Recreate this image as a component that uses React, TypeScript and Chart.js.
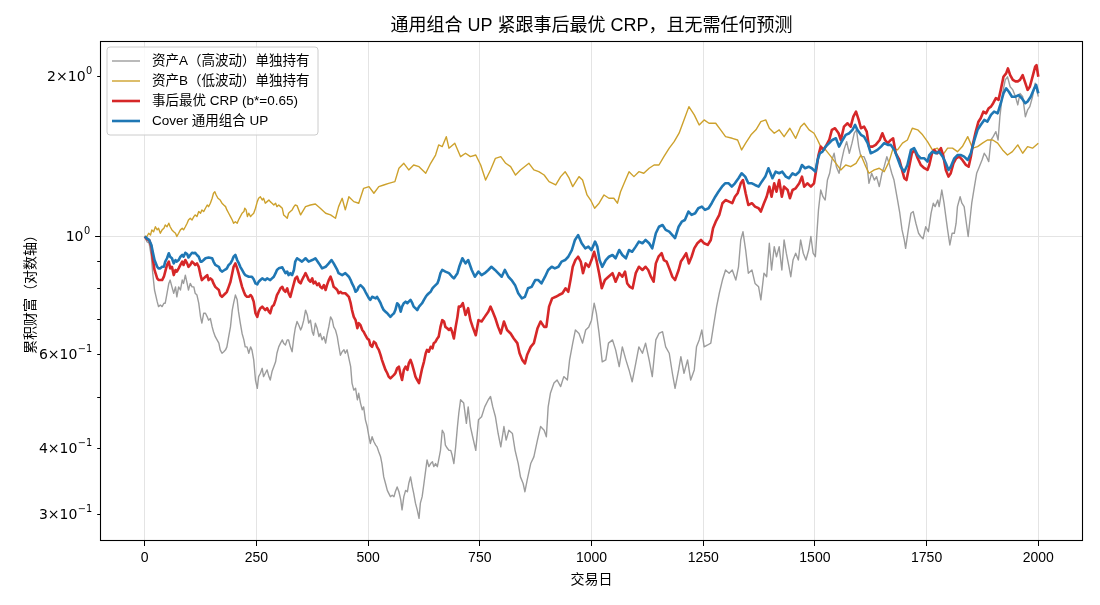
import React, { useEffect, useRef } from "react";
import { Chart, registerables } from "chart.js";

Chart.register(...registerables);

// Axis ticks
const dayTicks = [0, 250, 500, 750, 1000, 1250, 1500, 1750, 2000];
const wealthTicks = [0.3, 0.4, 0.5, 0.6, 0.7, 0.8, 0.9, 1, 2];
const labeledWealth = [2, 1, 0.6, 0.4, 0.3];
const labelMantissa = ["2×10", "10", "6×10", "4×10", "3×10"];
const labelExponent = ["0", "0", "−1", "−1", "−1"];

// Text
const chartTitle = "通用组合 UP 紧跟事后最优 CRP，且无需任何预测";
const xTitle = "交易日";
const yTitle = "累积财富（对数轴）";
const seriesNames = [
  "资产A（高波动）单独持有",
  "资产B（低波动）单独持有",
  "事后最优 CRP (b*=0.65)",
  "Cover 通用组合 UP",
];

// Cumulative wealth per trading day: [day, wealth]
const assetA: [number, number][] = [
  [0, 1.0], [5, 0.978], [10, 0.971], [15, 0.916], [18, 0.853], [22, 0.793], [28, 0.754], [31, 0.738], [35, 0.743], [39, 0.738],
  [43, 0.749], [46, 0.749], [50, 0.782], [54, 0.816], [57, 0.828], [61, 0.804], [65, 0.782], [69, 0.804], [72, 0.77], [76, 0.804],
  [80, 0.793], [84, 0.828], [87, 0.816], [91, 0.846], [95, 0.816], [98, 0.793], [102, 0.816], [106, 0.804], [110, 0.804], [113, 0.782],
  [117, 0.776], [121, 0.749], [125, 0.706], [128, 0.687], [132, 0.717], [136, 0.717], [140, 0.706], [143, 0.696], [147, 0.701], [151, 0.676],
  [154, 0.662], [158, 0.648], [162, 0.639], [166, 0.63], [169, 0.612], [173, 0.603], [177, 0.607], [181, 0.612], [184, 0.62], [188, 0.648],
  [192, 0.676], [196, 0.727], [199, 0.749], [203, 0.776], [207, 0.76], [210, 0.722], [214, 0.687], [218, 0.657], [222, 0.639], [225, 0.62],
  [229, 0.62], [233, 0.603], [237, 0.62], [240, 0.612], [244, 0.586], [248, 0.537], [252, 0.518], [255, 0.545], [259, 0.553], [263, 0.565],
  [266, 0.545], [270, 0.553], [274, 0.561], [278, 0.545], [281, 0.537], [285, 0.557], [289, 0.569], [293, 0.581], [296, 0.603], [300, 0.62],
  [304, 0.63], [308, 0.639], [311, 0.63], [315, 0.625], [319, 0.639], [322, 0.639], [326, 0.62], [330, 0.607], [334, 0.648], [337, 0.672],
  [341, 0.692], [345, 0.681], [349, 0.667], [352, 0.676], [356, 0.696], [360, 0.727], [364, 0.712], [367, 0.687], [371, 0.696], [375, 0.662],
  [378, 0.652], [382, 0.687], [386, 0.672], [390, 0.648], [393, 0.657], [397, 0.639], [401, 0.648], [405, 0.63], [408, 0.652], [412, 0.676],
  [416, 0.706], [420, 0.696], [423, 0.676], [427, 0.667], [431, 0.648], [434, 0.625], [438, 0.598], [442, 0.607], [446, 0.612], [449, 0.603],
  [453, 0.612], [457, 0.59], [461, 0.569], [464, 0.53], [468, 0.514], [472, 0.518], [476, 0.493], [479, 0.507], [483, 0.486], [487, 0.472],
  [490, 0.478], [494, 0.452], [498, 0.439], [502, 0.42], [505, 0.408], [509, 0.42], [513, 0.411], [517, 0.405], [520, 0.402], [524, 0.393],
  [528, 0.385], [531, 0.374], [535, 0.353], [539, 0.343], [543, 0.333], [546, 0.329], [550, 0.324], [554, 0.326], [558, 0.324], [561, 0.331],
  [565, 0.338], [569, 0.331], [573, 0.32], [576, 0.306], [580, 0.324], [584, 0.333], [588, 0.331], [591, 0.343], [595, 0.353], [599, 0.338],
  [602, 0.329], [606, 0.315], [610, 0.306], [614, 0.295], [617, 0.315], [621, 0.324], [625, 0.343], [629, 0.364], [632, 0.38], [636, 0.369],
  [640, 0.374], [644, 0.377], [647, 0.369], [651, 0.374], [655, 0.369], [658, 0.38], [662, 0.396], [666, 0.432], [670, 0.426], [673, 0.405],
  [677, 0.4], [681, 0.396], [685, 0.396], [688, 0.388], [692, 0.374], [696, 0.402], [700, 0.439], [703, 0.465], [707, 0.493], [714, 0.486],
  [720, 0.445], [724, 0.478], [729, 0.439], [734, 0.42], [741, 0.396], [747, 0.452], [754, 0.458], [761, 0.478], [769, 0.493], [774, 0.5],
  [779, 0.478], [785, 0.458], [791, 0.426], [797, 0.402], [804, 0.439], [809, 0.414], [815, 0.432], [823, 0.426], [829, 0.396], [836, 0.374],
  [841, 0.353], [847, 0.343], [851, 0.331], [856, 0.348], [864, 0.374], [871, 0.385], [879, 0.414], [886, 0.439], [894, 0.432], [899, 0.42],
  [903, 0.478], [908, 0.507], [916, 0.53], [923, 0.537], [931, 0.522], [938, 0.545], [946, 0.537], [951, 0.586], [958, 0.63], [964, 0.667],
  [972, 0.657], [980, 0.63], [987, 0.667], [994, 0.676], [1000, 0.696], [1006, 0.749], [1011, 0.717], [1017, 0.657], [1024, 0.581], [1032, 0.586],
  [1038, 0.63], [1047, 0.639], [1054, 0.612], [1062, 0.569], [1069, 0.62], [1077, 0.586], [1084, 0.561], [1091, 0.533], [1099, 0.577], [1106, 0.62],
  [1114, 0.603], [1121, 0.63], [1129, 0.586], [1136, 0.545], [1144, 0.639], [1151, 0.657], [1159, 0.662], [1166, 0.62], [1174, 0.603], [1181, 0.553],
  [1187, 0.518], [1195, 0.561], [1200, 0.594], [1207, 0.553], [1215, 0.586], [1222, 0.537], [1230, 0.561], [1235, 0.62], [1241, 0.639], [1247, 0.667],
  [1252, 0.62], [1260, 0.625], [1267, 0.63], [1274, 0.687], [1280, 0.738], [1286, 0.782], [1293, 0.828], [1300, 0.865], [1308, 0.853], [1315, 0.865],
  [1323, 0.828], [1329, 0.877], [1334, 0.985], [1339, 1.021], [1345, 0.943], [1351, 0.853], [1359, 0.865], [1366, 0.816], [1374, 0.804], [1379, 0.76],
  [1386, 0.853], [1392, 0.84], [1398, 0.971], [1403, 0.865], [1409, 0.957], [1414, 0.916], [1420, 0.957], [1426, 0.865], [1431, 0.985], [1436, 0.93],
  [1442, 0.877], [1446, 0.84], [1451, 0.903], [1457, 0.93], [1463, 0.903], [1468, 0.985], [1474, 0.93], [1480, 0.903], [1486, 0.943], [1491, 1.0],
  [1496, 0.93], [1501, 0.916], [1504, 1.0], [1508, 1.122], [1513, 1.223], [1518, 1.188], [1523, 1.171], [1528, 1.277], [1533, 1.315], [1538, 1.393],
  [1543, 1.434], [1548, 1.353], [1554, 1.315], [1560, 1.393], [1565, 1.455], [1571, 1.508], [1577, 1.434], [1583, 1.498], [1588, 1.564], [1593, 1.587],
  [1598, 1.476], [1603, 1.413], [1610, 1.413], [1616, 1.373], [1621, 1.259], [1627, 1.315], [1633, 1.277], [1638, 1.296], [1644, 1.241], [1650, 1.315],
  [1655, 1.353], [1661, 1.413], [1666, 1.373], [1672, 1.315], [1677, 1.277], [1685, 1.171], [1690, 1.106], [1695, 1.029], [1700, 0.985], [1703, 0.95],
  [1709, 1.029], [1715, 1.106], [1720, 1.114], [1726, 1.059], [1732, 1.014], [1737, 1.0], [1742, 0.99], [1748, 1.043], [1754, 1.021], [1760, 1.106],
  [1765, 1.155], [1769, 1.138], [1775, 1.171], [1778, 1.138], [1784, 1.223], [1789, 1.155], [1793, 1.09], [1797, 1.029], [1802, 0.964], [1807, 1.014],
  [1812, 1.014], [1816, 1.059], [1819, 1.138], [1825, 1.188], [1829, 1.155], [1834, 1.138], [1838, 1.074], [1843, 1.0], [1847, 1.074], [1851, 1.155],
  [1857, 1.241], [1862, 1.315], [1868, 1.353], [1874, 1.393], [1879, 1.434], [1884, 1.413], [1889, 1.383], [1894, 1.519], [1899, 1.541], [1905, 1.575],
  [1910, 1.519], [1914, 1.68], [1920, 1.859], [1926, 1.971], [1931, 1.997], [1937, 1.913], [1943, 1.887], [1949, 1.832], [1954, 1.768], [1959, 1.859],
  [1965, 1.832], [1971, 1.68], [1976, 1.73], [1981, 1.755], [1987, 1.832], [1993, 1.943], [2000, 1.832],
];

const assetB: [number, number][] = [
  [0, 1.0], [5, 1.0], [9, 1.014], [13, 1.006], [16, 1.029], [20, 1.021], [24, 1.043], [28, 1.029], [31, 1.036], [35, 1.014],
  [39, 1.029], [43, 1.036], [46, 1.051], [50, 1.043], [54, 1.059], [57, 1.043], [61, 1.029], [65, 1.021], [69, 1.014], [72, 1.0],
  [76, 1.014], [80, 1.029], [84, 1.036], [87, 1.029], [91, 1.043], [95, 1.059], [98, 1.074], [102, 1.082], [106, 1.074], [110, 1.09],
  [113, 1.098], [117, 1.09], [121, 1.114], [125, 1.106], [128, 1.122], [132, 1.114], [136, 1.13], [140, 1.146], [143, 1.138], [147, 1.155],
  [151, 1.18], [154, 1.206], [157, 1.214], [160, 1.197], [164, 1.18], [169, 1.171], [173, 1.155], [177, 1.146], [181, 1.138], [184, 1.122],
  [188, 1.106], [192, 1.09], [196, 1.074], [199, 1.059], [203, 1.066], [207, 1.059], [210, 1.074], [214, 1.09], [218, 1.106], [222, 1.114],
  [224, 1.13], [227, 1.122], [230, 1.09], [233, 1.106], [237, 1.09], [240, 1.098], [244, 1.106], [248, 1.13], [252, 1.163], [255, 1.18],
  [259, 1.188], [263, 1.171], [266, 1.18], [270, 1.155], [274, 1.163], [278, 1.171], [281, 1.163], [285, 1.155], [289, 1.146], [293, 1.155],
  [296, 1.138], [300, 1.146], [304, 1.138], [308, 1.13], [311, 1.098], [315, 1.09], [319, 1.082], [322, 1.106], [326, 1.114], [330, 1.122],
  [334, 1.138], [337, 1.146], [341, 1.143], [349, 1.098], [360, 1.138], [371, 1.146], [382, 1.151], [393, 1.13], [405, 1.106], [416, 1.098],
  [427, 1.082], [434, 1.138], [442, 1.18], [449, 1.122], [457, 1.188], [468, 1.163], [479, 1.155], [490, 1.232], [502, 1.241], [513, 1.206],
  [524, 1.241], [535, 1.25], [546, 1.259], [560, 1.268], [569, 1.344], [580, 1.373], [591, 1.334], [602, 1.363], [614, 1.353], [629, 1.315],
  [640, 1.373], [651, 1.423], [658, 1.487], [666, 1.476], [675, 1.541], [681, 1.466], [694, 1.498], [707, 1.413], [718, 1.434], [729, 1.413],
  [741, 1.423], [752, 1.363], [763, 1.277], [774, 1.334], [785, 1.403], [797, 1.413], [808, 1.373], [819, 1.353], [830, 1.305], [841, 1.334],
  [860, 1.373], [871, 1.334], [882, 1.324], [894, 1.305], [905, 1.268], [920, 1.25], [931, 1.296], [941, 1.324], [950, 1.287], [958, 1.241],
  [972, 1.296], [980, 1.277], [990, 1.197], [998, 1.171], [1007, 1.13], [1017, 1.155], [1028, 1.197], [1039, 1.18], [1050, 1.18], [1058, 1.155],
  [1065, 1.214], [1073, 1.259], [1084, 1.324], [1095, 1.296], [1106, 1.324], [1117, 1.315], [1129, 1.344], [1140, 1.363], [1151, 1.363], [1162, 1.413],
  [1174, 1.466], [1185, 1.508], [1196, 1.564], [1207, 1.657], [1218, 1.755], [1230, 1.693], [1241, 1.621], [1252, 1.657], [1263, 1.633], [1278, 1.633],
  [1289, 1.587], [1300, 1.541], [1315, 1.53], [1327, 1.519], [1336, 1.455], [1345, 1.498], [1357, 1.553], [1368, 1.587], [1379, 1.644], [1390, 1.657],
  [1398, 1.598], [1409, 1.564], [1420, 1.587], [1431, 1.541], [1444, 1.598], [1457, 1.53], [1468, 1.609], [1476, 1.633], [1487, 1.587], [1498, 1.564],
  [1506, 1.519], [1513, 1.476], [1524, 1.455], [1536, 1.413], [1547, 1.373], [1558, 1.334], [1569, 1.363], [1580, 1.353], [1592, 1.373], [1603, 1.423],
  [1614, 1.353], [1621, 1.315], [1633, 1.334], [1644, 1.344], [1655, 1.324], [1666, 1.383], [1675, 1.466], [1685, 1.455], [1696, 1.498], [1707, 1.519],
  [1718, 1.598], [1730, 1.587], [1741, 1.553], [1752, 1.508], [1763, 1.455], [1774, 1.466], [1786, 1.423], [1797, 1.466], [1808, 1.466], [1819, 1.444],
  [1830, 1.476], [1842, 1.541], [1853, 1.466], [1864, 1.476], [1875, 1.498], [1886, 1.519], [1898, 1.519], [1909, 1.498], [1920, 1.455], [1931, 1.423],
  [1942, 1.444], [1954, 1.487], [1965, 1.434], [1976, 1.476], [1987, 1.466], [2000, 1.498],
];

const bestCrp: [number, number][] = [
  [0, 1.0], [5, 0.988], [10, 0.985], [15, 0.957], [18, 0.91], [22, 0.865], [28, 0.834], [31, 0.828], [39, 0.828], [43, 0.84],
  [46, 0.859], [50, 0.884], [54, 0.897], [57, 0.871], [61, 0.877], [65, 0.846], [69, 0.865], [72, 0.859], [76, 0.871], [80, 0.884],
  [84, 0.897], [87, 0.884], [91, 0.903], [95, 0.89], [98, 0.877], [102, 0.884], [106, 0.897], [110, 0.89], [113, 0.884], [117, 0.89],
  [121, 0.877], [125, 0.846], [128, 0.828], [132, 0.834], [136, 0.84], [140, 0.846], [143, 0.828], [147, 0.834], [151, 0.828], [154, 0.816],
  [158, 0.804], [166, 0.793], [169, 0.776], [173, 0.77], [177, 0.776], [181, 0.782], [184, 0.787], [188, 0.804], [192, 0.822], [196, 0.853],
  [199, 0.877], [203, 0.89], [207, 0.871], [210, 0.853], [214, 0.828], [218, 0.804], [222, 0.787], [225, 0.776], [229, 0.77], [233, 0.77],
  [237, 0.776], [240, 0.77], [244, 0.754], [248, 0.717], [252, 0.706], [255, 0.722], [259, 0.733], [263, 0.738], [266, 0.733], [270, 0.727],
  [274, 0.733], [278, 0.722], [281, 0.717], [285, 0.738], [289, 0.743], [293, 0.76], [296, 0.776], [300, 0.787], [304, 0.799], [308, 0.804],
  [311, 0.793], [315, 0.787], [319, 0.799], [322, 0.782], [326, 0.77], [330, 0.793], [334, 0.816], [337, 0.834], [341, 0.84], [345, 0.822],
  [349, 0.816], [352, 0.828], [356, 0.84], [360, 0.853], [364, 0.84], [367, 0.828], [371, 0.822], [375, 0.834], [378, 0.816], [382, 0.822],
  [386, 0.81], [390, 0.816], [393, 0.804], [397, 0.799], [401, 0.81], [405, 0.793], [408, 0.81], [412, 0.828], [416, 0.84], [420, 0.822],
  [423, 0.804], [427, 0.799], [431, 0.793], [434, 0.782], [438, 0.787], [442, 0.782], [449, 0.782], [453, 0.776], [457, 0.77], [461, 0.749],
  [464, 0.727], [468, 0.706], [472, 0.696], [476, 0.672], [479, 0.687], [483, 0.681], [487, 0.667], [490, 0.662], [494, 0.652], [498, 0.643],
  [502, 0.639], [505, 0.625], [509, 0.62], [513, 0.634], [517, 0.63], [520, 0.62], [524, 0.612], [528, 0.598], [531, 0.586], [535, 0.573],
  [539, 0.561], [543, 0.553], [546, 0.545], [550, 0.541], [554, 0.545], [558, 0.549], [561, 0.553], [565, 0.565], [569, 0.569], [573, 0.549],
  [576, 0.537], [580, 0.561], [584, 0.569], [588, 0.561], [591, 0.577], [595, 0.586], [599, 0.573], [602, 0.561], [606, 0.545], [610, 0.537],
  [614, 0.53], [617, 0.545], [621, 0.565], [625, 0.581], [629, 0.603], [632, 0.612], [636, 0.607], [640, 0.62], [644, 0.616], [647, 0.63],
  [651, 0.634], [655, 0.643], [658, 0.648], [662, 0.676], [666, 0.696], [670, 0.692], [673, 0.676], [677, 0.672], [681, 0.667], [685, 0.672],
  [688, 0.662], [692, 0.643], [696, 0.676], [700, 0.706], [703, 0.738], [707, 0.738], [712, 0.749], [718, 0.712], [724, 0.733], [729, 0.696],
  [734, 0.676], [741, 0.652], [747, 0.696], [754, 0.692], [761, 0.706], [769, 0.722], [774, 0.738], [779, 0.722], [785, 0.701], [791, 0.676],
  [797, 0.657], [804, 0.692], [811, 0.667], [819, 0.657], [826, 0.643], [834, 0.63], [839, 0.603], [845, 0.586], [851, 0.577], [856, 0.599],
  [864, 0.62], [871, 0.63], [879, 0.671], [886, 0.692], [894, 0.676], [899, 0.676], [905, 0.738], [912, 0.765], [920, 0.77], [927, 0.776],
  [935, 0.782], [942, 0.799], [948, 0.787], [953, 0.828], [958, 0.877], [964, 0.903], [970, 0.916], [976, 0.897], [981, 0.853], [987, 0.89],
  [994, 0.877], [1000, 0.903], [1006, 0.936], [1011, 0.903], [1017, 0.853], [1023, 0.799], [1030, 0.828], [1038, 0.84], [1047, 0.853], [1054, 0.822],
  [1062, 0.853], [1069, 0.84], [1075, 0.859], [1080, 0.816], [1086, 0.804], [1092, 0.799], [1099, 0.853], [1106, 0.877], [1114, 0.865], [1121, 0.877],
  [1127, 0.865], [1133, 0.84], [1139, 0.822], [1144, 0.89], [1150, 0.916], [1157, 0.93], [1162, 0.903], [1168, 0.897], [1174, 0.871], [1181, 0.84],
  [1187, 0.828], [1195, 0.865], [1200, 0.897], [1205, 0.91], [1212, 0.93], [1218, 0.89], [1224, 0.916], [1230, 0.95], [1237, 0.971], [1245, 0.985],
  [1252, 0.971], [1260, 0.964], [1267, 0.985], [1272, 1.036], [1278, 1.066], [1286, 1.098], [1293, 1.155], [1300, 1.171], [1308, 1.163], [1315, 1.155],
  [1321, 1.188], [1327, 1.206], [1334, 1.259], [1339, 1.277], [1345, 1.206], [1351, 1.146], [1359, 1.155], [1366, 1.138], [1374, 1.13], [1379, 1.114],
  [1386, 1.155], [1392, 1.188], [1398, 1.241], [1403, 1.188], [1409, 1.259], [1414, 1.214], [1420, 1.277], [1426, 1.188], [1431, 1.241], [1439, 1.223],
  [1444, 1.18], [1450, 1.223], [1457, 1.232], [1465, 1.259], [1471, 1.296], [1476, 1.241], [1483, 1.259], [1491, 1.241], [1498, 1.259], [1504, 1.353],
  [1508, 1.423], [1513, 1.476], [1519, 1.455], [1524, 1.476], [1532, 1.519], [1538, 1.587], [1545, 1.598], [1553, 1.564], [1558, 1.519], [1565, 1.609],
  [1573, 1.633], [1580, 1.609], [1586, 1.68], [1592, 1.717], [1598, 1.657], [1603, 1.598], [1610, 1.609], [1616, 1.575], [1621, 1.476], [1629, 1.476],
  [1636, 1.487], [1645, 1.519], [1651, 1.564], [1657, 1.519], [1663, 1.498], [1670, 1.519], [1675, 1.53], [1681, 1.434], [1689, 1.393], [1695, 1.334],
  [1700, 1.287], [1705, 1.277], [1711, 1.353], [1717, 1.434], [1723, 1.455], [1730, 1.403], [1737, 1.363], [1745, 1.344], [1752, 1.334], [1756, 1.363],
  [1762, 1.434], [1767, 1.455], [1774, 1.434], [1782, 1.466], [1787, 1.423], [1793, 1.334], [1799, 1.296], [1804, 1.315], [1810, 1.373], [1816, 1.403],
  [1823, 1.413], [1830, 1.393], [1838, 1.363], [1844, 1.353], [1849, 1.413], [1854, 1.498], [1860, 1.575], [1866, 1.644], [1871, 1.669], [1877, 1.717],
  [1883, 1.705], [1889, 1.743], [1894, 1.755], [1899, 1.781], [1905, 1.82], [1911, 1.807], [1916, 1.887], [1922, 1.997], [1928, 2.027], [1932, 2.071],
  [1937, 2.012], [1943, 1.971], [1949, 1.958], [1954, 1.958], [1959, 1.971], [1965, 2.012], [1971, 1.943], [1976, 1.887], [1981, 1.913], [1987, 1.997],
  [1993, 2.087], [1996, 2.1], [2000, 1.997],
];

const coverUp: [number, number][] = [
  [0, 1.0], [5, 0.992], [10, 0.985], [15, 0.964], [18, 0.936], [22, 0.903], [28, 0.877], [31, 0.871], [35, 0.871], [39, 0.877],
  [43, 0.877], [46, 0.897], [50, 0.91], [54, 0.93], [57, 0.916], [61, 0.91], [65, 0.89], [69, 0.903], [72, 0.897], [76, 0.903],
  [80, 0.916], [84, 0.923], [87, 0.916], [91, 0.932], [95, 0.927], [98, 0.913], [102, 0.923], [106, 0.932], [110, 0.93], [113, 0.932],
  [117, 0.923], [121, 0.916], [125, 0.897], [128, 0.897], [132, 0.903], [136, 0.91], [143, 0.913], [151, 0.91], [154, 0.897], [158, 0.884],
  [166, 0.877], [169, 0.865], [173, 0.859], [177, 0.863], [181, 0.867], [184, 0.871], [188, 0.884], [192, 0.89], [196, 0.903], [199, 0.916],
  [203, 0.923], [207, 0.903], [210, 0.893], [214, 0.877], [218, 0.865], [222, 0.853], [225, 0.846], [233, 0.84], [240, 0.84], [244, 0.831],
  [248, 0.816], [252, 0.813], [255, 0.822], [259, 0.828], [263, 0.834], [266, 0.831], [270, 0.828], [274, 0.834], [281, 0.828], [285, 0.834],
  [289, 0.84], [293, 0.853], [296, 0.865], [300, 0.871], [308, 0.875], [311, 0.865], [315, 0.853], [319, 0.859], [322, 0.846], [326, 0.853],
  [330, 0.846], [334, 0.865], [337, 0.897], [341, 0.91], [352, 0.897], [360, 0.91], [367, 0.897], [375, 0.903], [382, 0.91], [390, 0.89],
  [397, 0.871], [405, 0.877], [412, 0.89], [418, 0.903], [423, 0.89], [431, 0.865], [434, 0.853], [442, 0.846], [449, 0.853], [457, 0.84],
  [461, 0.828], [464, 0.816], [468, 0.804], [472, 0.787], [476, 0.793], [479, 0.804], [483, 0.81], [487, 0.804], [490, 0.799], [494, 0.787],
  [498, 0.776], [502, 0.765], [505, 0.76], [509, 0.77], [517, 0.765], [520, 0.77], [524, 0.76], [528, 0.749], [531, 0.738], [535, 0.727],
  [539, 0.722], [543, 0.717], [546, 0.712], [550, 0.706], [554, 0.712], [558, 0.717], [561, 0.727], [565, 0.749], [569, 0.743], [573, 0.722],
  [576, 0.738], [580, 0.749], [584, 0.754], [588, 0.749], [591, 0.754], [595, 0.76], [599, 0.749], [602, 0.738], [606, 0.733], [610, 0.727],
  [614, 0.738], [617, 0.743], [621, 0.749], [625, 0.76], [629, 0.77], [632, 0.776], [636, 0.782], [640, 0.787], [644, 0.799], [647, 0.804],
  [651, 0.81], [655, 0.816], [658, 0.828], [662, 0.853], [666, 0.865], [673, 0.859], [681, 0.853], [688, 0.84], [692, 0.834], [700, 0.853],
  [704, 0.877], [711, 0.91], [718, 0.89], [724, 0.903], [732, 0.865], [739, 0.84], [747, 0.859], [754, 0.846], [761, 0.853], [769, 0.865],
  [776, 0.877], [784, 0.865], [791, 0.853], [799, 0.84], [806, 0.865], [814, 0.84], [821, 0.828], [829, 0.81], [836, 0.782], [844, 0.765],
  [851, 0.77], [858, 0.799], [866, 0.804], [874, 0.828], [881, 0.828], [888, 0.816], [896, 0.84], [903, 0.865], [911, 0.877], [918, 0.871],
  [926, 0.877], [933, 0.897], [941, 0.903], [948, 0.916], [956, 0.943], [963, 0.985], [970, 1.006], [978, 0.971], [986, 0.95], [993, 0.957],
  [1000, 0.943], [1008, 0.978], [1013, 0.957], [1018, 0.903], [1024, 0.877], [1032, 0.903], [1039, 0.916], [1047, 0.923], [1054, 0.91], [1062, 0.943],
  [1069, 0.923], [1077, 0.91], [1084, 0.943], [1091, 0.936], [1099, 0.957], [1106, 0.978], [1114, 0.971], [1121, 0.985], [1129, 0.971], [1136, 0.95],
  [1144, 1.014], [1151, 1.043], [1159, 1.051], [1166, 1.029], [1174, 1.021], [1181, 1.006], [1187, 0.993], [1195, 1.043], [1202, 1.066], [1209, 1.074],
  [1217, 1.114], [1224, 1.098], [1232, 1.106], [1239, 1.13], [1247, 1.138], [1254, 1.122], [1262, 1.13], [1269, 1.155], [1277, 1.188], [1284, 1.214],
  [1292, 1.241], [1299, 1.259], [1307, 1.259], [1314, 1.241], [1321, 1.259], [1329, 1.287], [1336, 1.315], [1344, 1.296], [1351, 1.259], [1359, 1.259],
  [1366, 1.25], [1374, 1.241], [1381, 1.268], [1389, 1.296], [1396, 1.344], [1405, 1.287], [1412, 1.324], [1420, 1.315], [1427, 1.324], [1435, 1.296],
  [1442, 1.287], [1450, 1.315], [1457, 1.305], [1465, 1.324], [1471, 1.363], [1478, 1.344], [1486, 1.353], [1493, 1.344], [1501, 1.324], [1506, 1.393],
  [1511, 1.434], [1517, 1.444], [1524, 1.476], [1532, 1.498], [1539, 1.519], [1547, 1.53], [1554, 1.476], [1562, 1.519], [1569, 1.553], [1577, 1.564],
  [1584, 1.587], [1590, 1.621], [1595, 1.587], [1603, 1.553], [1610, 1.541], [1618, 1.498], [1625, 1.434], [1633, 1.444], [1640, 1.455], [1648, 1.476],
  [1655, 1.498], [1663, 1.487], [1670, 1.487], [1678, 1.455], [1685, 1.403], [1692, 1.353], [1700, 1.324], [1707, 1.363], [1715, 1.455], [1722, 1.466],
  [1730, 1.423], [1737, 1.403], [1745, 1.403], [1752, 1.383], [1756, 1.423], [1763, 1.444], [1771, 1.434], [1778, 1.444], [1786, 1.413], [1793, 1.373],
  [1799, 1.334], [1804, 1.353], [1812, 1.403], [1819, 1.423], [1827, 1.423], [1834, 1.413], [1842, 1.393], [1849, 1.434], [1857, 1.519], [1864, 1.587],
  [1871, 1.621], [1879, 1.657], [1886, 1.644], [1894, 1.693], [1901, 1.717], [1909, 1.705], [1916, 1.781], [1922, 1.859], [1928, 1.9], [1934, 1.872],
  [1941, 1.832], [1949, 1.832], [1956, 1.845], [1963, 1.82], [1971, 1.781], [1976, 1.794], [1983, 1.832], [1991, 1.9], [1995, 1.929], [2000, 1.859],
];

const seriesData = [assetA, assetB, bestCrp, coverUp];
const seriesColors = ["#9c9c9c", "#cda12c", "#d62728", "#1f77b4"];
const seriesWidths = [1.4, 1.4, 2.6, 2.6];

const LATIN_CJK = '"Liberation Sans", "Noto Sans CJK SC", sans-serif';
const GRID = "#e4e4e4";

// Frame, log-axis labels, titles and legend drawn over the plot
const decorations = {
  id: "decorations",
  afterDraw(chart: any) {
    const { ctx, chartArea: a } = chart;
    const ys = chart.scales.y;
    ctx.save();

    // y tick marks (decade = major, others minor)
    ctx.strokeStyle = "#000";
    ctx.lineWidth = 1;
    wealthTicks.forEach((v) => {
      const py = Math.round(ys.getPixelForValue(v)) + 0.5;
      const len = v === 1 ? 4.9 : 2.8;
      ctx.beginPath();
      ctx.moveTo(a.left, py);
      ctx.lineTo(a.left - len, py);
      ctx.stroke();
    });

    // y tick labels with superscript exponents
    ctx.fillStyle = "#000";
    ctx.textAlign = "right";
    ctx.textBaseline = "alphabetic";
    labeledWealth.forEach((v, i) => {
      const py = ys.getPixelForValue(v);
      const right = a.left - (v === 1 ? 4.9 : 2.8) - 4.9;
      ctx.font = '9.8px "DejaVu Sans"';
      const ew = ctx.measureText(labelExponent[i]).width;
      ctx.fillText(labelExponent[i], right, py - 2);
      ctx.font = '14px "DejaVu Sans"';
      ctx.fillText(labelMantissa[i], right - ew - 0.5, py + 5);
    });

    // axes frame
    ctx.lineWidth = 1.1;
    ctx.strokeRect(a.left + 0.5, a.top + 0.5, a.right - a.left - 1, a.bottom - a.top - 1);

    // title and axis titles
    ctx.textAlign = "center";
    ctx.textBaseline = "middle";
    ctx.font = `18px ${LATIN_CJK}`;
    ctx.fillText(chartTitle, (a.left + a.right) / 2, 26);
    ctx.font = `14px ${LATIN_CJK}`;
    ctx.fillText(xTitle, (a.left + a.right) / 2, 580);
    ctx.save();
    ctx.translate(31, (a.top + a.bottom) / 2);
    ctx.rotate(-Math.PI / 2);
    ctx.fillText(yTitle, 0, 0);
    ctx.restore();

    // legend
    const bx = 107, by = 47, bw = 211, bh = 88, r = 3;
    ctx.beginPath();
    ctx.moveTo(bx + r, by);
    ctx.arcTo(bx + bw, by, bx + bw, by + bh, r);
    ctx.arcTo(bx + bw, by + bh, bx, by + bh, r);
    ctx.arcTo(bx, by + bh, bx, by, r);
    ctx.arcTo(bx, by, bx + bw, by, r);
    ctx.closePath();
    ctx.fillStyle = "rgba(255,255,255,0.8)";
    ctx.fill();
    ctx.strokeStyle = "#cccccc";
    ctx.lineWidth = 1;
    ctx.stroke();

    ctx.textAlign = "left";
    ctx.font = `13.5px ${LATIN_CJK}`;
    seriesNames.forEach((name, i) => {
      const ry = 61 + i * 20;
      ctx.strokeStyle = seriesColors[i];
      ctx.lineWidth = seriesWidths[i];
      ctx.beginPath();
      ctx.moveTo(112, ry);
      ctx.lineTo(140, ry);
      ctx.stroke();
      ctx.fillStyle = "#000";
      ctx.fillText(name, 152, ry + 0.5);
    });

    ctx.restore();
  },
};

export default function App() {
  const canvasRef = useRef<HTMLCanvasElement>(null);

  useEffect(() => {
    document.body.style.margin = "0";
    const canvas = canvasRef.current;
    if (!canvas) return;

    const datasets = seriesData.map((pts, i) => ({
      label: seriesNames[i],
      data: pts.map(([d, w]) => ({ x: d, y: w })),
      borderColor: seriesColors[i],
      backgroundColor: seriesColors[i],
      borderWidth: seriesWidths[i],
      borderJoinStyle: "round" as const,
      pointRadius: 0,
      tension: 0,
      fill: false,
      order: seriesData.length - i,
    }));

    const chart = new Chart(canvas, {
      type: "line",
      data: { datasets },
      options: {
        animation: false,
        responsive: false,
        devicePixelRatio: 1,
        layout: { padding: { top: 41, right: 17, left: 0, bottom: 0 } },
        plugins: {
          legend: { display: false },
          title: { display: false },
          tooltip: { enabled: false },
        },
        scales: {
          x: {
            type: "linear",
            min: -100,
            max: 2100,
            afterBuildTicks: (scale: any) => {
              scale.ticks = dayTicks.map((v) => ({ value: v }));
            },
            afterFit: (scale: any) => {
              scale.height = 64;
            },
            border: { display: false },
            grid: {
              color: GRID,
              lineWidth: 1,
              drawTicks: true,
              tickLength: 5,
              tickColor: "#000",
              tickWidth: 1,
            },
            ticks: {
              autoSkip: false,
              maxRotation: 0,
              padding: 4,
              color: "#000",
              font: { family: LATIN_CJK, size: 14 },
              callback: (v: any) => String(v),
            },
          },
          y: {
            type: "logarithmic",
            min: 0.2674,
            max: 2.332,
            afterBuildTicks: (scale: any) => {
              scale.ticks = wealthTicks.map((v) => ({ value: v }));
            },
            afterFit: (scale: any) => {
              scale.width = 100;
            },
            border: { display: false },
            grid: {
              color: (c: any) => (c.tick && c.tick.value === 1 ? GRID : "rgba(0,0,0,0)"),
              lineWidth: 1,
              drawTicks: false,
            },
            ticks: { display: false },
          },
        },
      },
      plugins: [decorations],
    });

    return () => chart.destroy();
  }, []);

  return (
    <div style={{ width: 1100, height: 605, background: "#fff" }}>
      <canvas ref={canvasRef} width={1100} height={605} style={{ display: "block", width: 1100, height: 605 }} />
    </div>
  );
}
